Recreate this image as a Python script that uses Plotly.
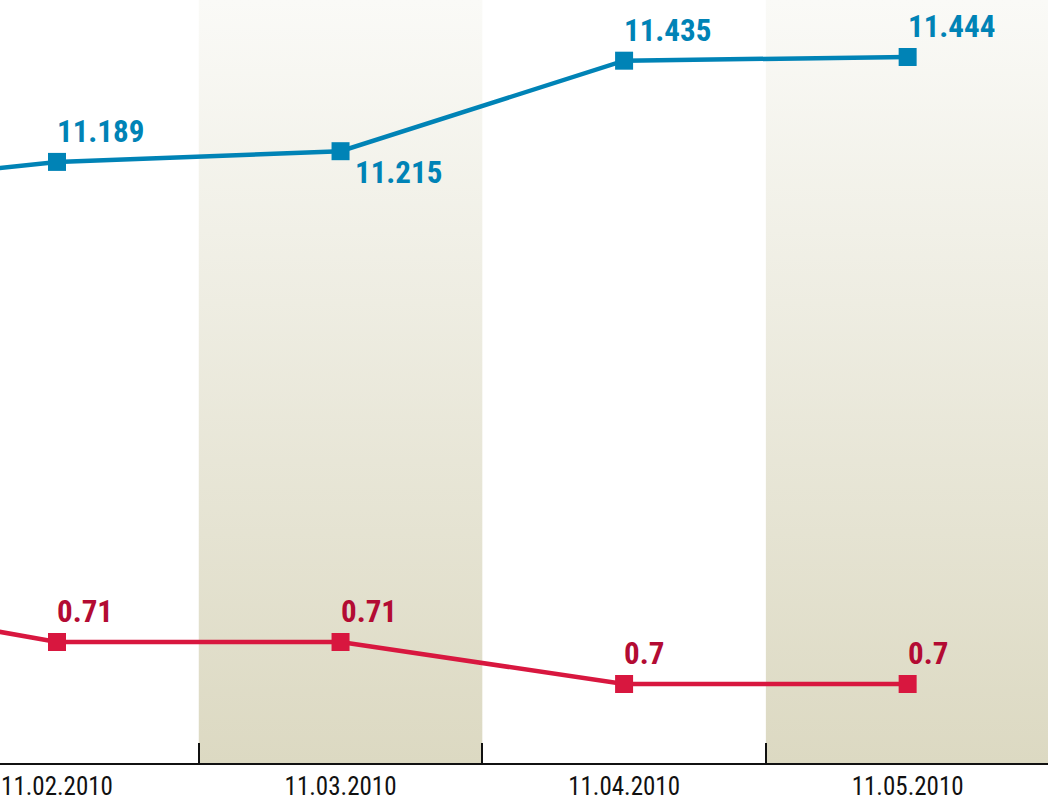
import plotly.graph_objects as go

dates = ["11.01.2010", "11.02.2010", "11.03.2010", "11.04.2010", "11.05.2010"]
blue_vals = [11.116, 11.189, 11.215, 11.435, 11.444]
red_vals = [0.722, 0.71, 0.71, 0.70, 0.70]
blue_labels = ["", "11.189", "11.215", "11.435", "11.444"]
red_labels = ["", "0.71", "0.71", "0.7", "0.7"]
blue_below = [False, False, True, False, False]
shaded = [True, False, True, False, True]

BLUE = "#0083b6"
RED_LINE = "#d8173f"
RED_TEXT = "#b30b33"
FONT = "Roboto Condensed, Roboto, Liberation Sans, sans-serif"

idx = list(range(len(dates)))

fig = go.Figure()

# background bands (vertical gradient)
for i, s in zip(idx, shaded):
    if not s:
        continue
    fig.add_trace(go.Scatter(
        x=[i - 0.5, i + 0.5, i + 0.5, i - 0.5, i - 0.5],
        y=[0, 0, 1, 1, 0],
        mode="lines", fill="toself", line=dict(width=0),
        fillgradient=dict(type="vertical",
                          colorscale=[[0, "#dcd9c2"], [1, "#fafaf7"]]),
        hoverinfo="skip", showlegend=False, yaxis="y",
    ))

fig.add_trace(go.Scatter(
    x=idx, y=blue_vals, yaxis="y2", mode="lines+markers",
    line=dict(color=BLUE, width=4.5),
    marker=dict(symbol="square", size=18, color=BLUE),
    showlegend=False,
))
fig.add_trace(go.Scatter(
    x=idx, y=red_vals, yaxis="y3", mode="lines+markers",
    line=dict(color=RED_LINE, width=4.5),
    marker=dict(symbol="square", size=18, color=RED_LINE),
    showlegend=False,
))

annotations = []
for i, v, t, below in zip(idx, blue_vals, blue_labels, blue_below):
    if not t:
        continue
    annotations.append(dict(
        x=i, y=v, xref="x", yref="y2", text=t, showarrow=False,
        xanchor="left", yanchor="top" if below else "bottom",
        xshift=12 if below else -2, yshift=-1 if below else 10,
        font=dict(family=FONT, size=31, color=BLUE, weight="bold"),
    ))
for i, v, t in zip(idx, red_vals, red_labels):
    if not t:
        continue
    annotations.append(dict(
        x=i, y=v, xref="x", yref="y3", text=t, showarrow=False,
        xanchor="left", yanchor="bottom", xshift=-2, yshift=10,
        font=dict(family=FONT, size=31, color=RED_TEXT, weight="bold"),
    ))

fig.update_layout(
    width=1048, height=802,
    margin=dict(l=0, r=0, t=0, b=39),
    paper_bgcolor="white", plot_bgcolor="white",
    annotations=annotations,
    xaxis=dict(
        range=[0.799, 4.495], tickmode="array", tickvals=idx, ticktext=dates,
        ticks="", showgrid=False, zeroline=False, ticklabeloverflow="allow",
        showline=True, linecolor="#111111", linewidth=2,
        tickfont=dict(family=FONT, size=25, color="#111111"),
        minor=dict(tickmode="array", tickvals=[i + 0.5 for i in idx],
                   ticks="inside", ticklen=20, tickwidth=2, tickcolor="#111111",
                   showgrid=False),
    ),
    yaxis=dict(range=[0, 1], visible=False, fixedrange=True),
    yaxis2=dict(range=[9.728, 11.5825], overlaying="y", visible=False),
    yaxis3=dict(range=[0.68119, 0.86286], overlaying="y", visible=False),
)

fig.write_html("out.html", config={"displayModeBar": False},
               post_script="document.body.style.margin='0';")
